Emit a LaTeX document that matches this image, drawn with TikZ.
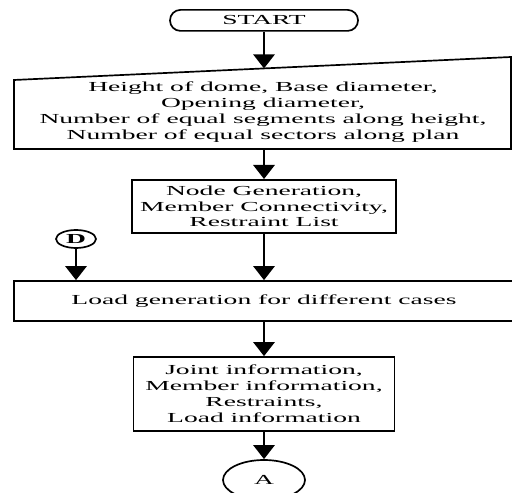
\documentclass[tikz,border=0pt]{standalone}
\usepackage{fontspec}
% testo allargato in orizzontale, come nell'originale
\setmainfont[FakeStretch=2.0]{Liberation Serif}
\usetikzlibrary{shapes.geometric, arrows.meta}

\begin{document}
\begin{tikzpicture}[
        % Stile per il testo dei blocchi
        testo/.style={align=center, font=\fontsize{9.8pt}{11.3pt}\selectfont},
        % Stile per i blocchi di processo (rettangoli)
        blocco/.style={testo, rectangle, draw=black, line width=1.2pt, inner sep=0pt},
        % Stile per il terminale di avvio (bordi arrotondati)
        terminale/.style={blocco, rounded corners=0.26cm},
        % Stile per i connettori (ellissi)
        connettore/.style={testo, ellipse, draw=black, line width=1.2pt, inner sep=0pt},
        % Stile per le frecce del flusso
        freccia/.style={line width=2pt, -{Triangle[width=15pt, length=10pt]}}
    ]

        % --- AREA DEL DISEGNO ---
        \useasboundingbox (0, 0) rectangle (12.8, 12.3);

        % --- COORDINATE DEI NODI ---
        \node[terminale, minimum width=4.7cm, minimum height=0.525cm] (start) at (6.6, 11.79) {START};

        % Blocco dei dati in ingresso (lato superiore inclinato)
        \coordinate (datiA) at (0.35, 10.3);
        \coordinate (datiB) at (12.775, 10.875);
        \coordinate (datiC) at (12.775, 8.575);
        \coordinate (datiD) at (0.35, 8.575);
        \coordinate (datiTop) at (6.6, 10.589);
        \coordinate (datiBot) at (6.6, 8.575);
        \draw[line width=1.2pt] (datiA) -- (datiB) -- (datiC) -- (datiD) -- cycle;
        \node[testo] (dati) at (6.575, 9.5) {Height of dome, Base diameter,\\Opening diameter,\\Number of equal segments along height,\\Number of equal sectors along plan};

        \node[blocco, minimum width=6.6cm, minimum height=1.325cm] (gen) at (6.6, 7.14) {Node Generation,\\Member Connectivity,\\Restraint List};
        \node[connettore, minimum width=1.0cm, minimum height=0.45cm] (D) at (1.9, 6.325) {\bfseries D};
        \node[blocco, minimum width=12.5cm, minimum height=1.0cm] (load) at (6.6, 4.775) {Load generation for different cases};
        \node[blocco, minimum width=6.525cm, minimum height=1.85cm] (info) at (6.6, 2.45) {Joint information,\\Member information,\\Restraints,\\Load information};
        \node[connettore, minimum width=2.05cm, minimum height=1.0cm] (A) at (6.6, 0.3) {A};

        % --- FRECCE ---
        \draw[freccia] (start) -- (datiTop);
        \draw[freccia] (datiBot) -- (gen);
        \draw[freccia] (gen) -- (gen.south |- load.north);
        \draw[freccia] (D) -- (D |- load.north);
        \draw[freccia] (load) -- (info);
        \draw[freccia] (info) -- (A);

    \end{tikzpicture}
\end{document}
